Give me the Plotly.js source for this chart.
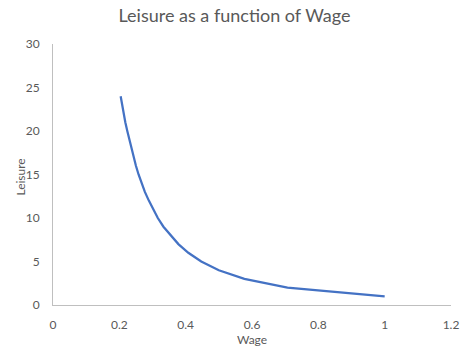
<!DOCTYPE html>
<html>
<head>
<meta charset="utf-8">
<script src="https://cdn.plot.ly/plotly-3.0.1.min.js"></script>
<style>html,body{margin:0;padding:0;background:#fff;}#chart{width:469px;height:353px;}</style>
</head>
<body>
<div id="chart"></div>
<script>
const wage = [1, 0.707, 0.577, 0.5, 0.447, 0.408, 0.378, 0.354, 0.333, 0.316, 0.302, 0.289, 0.277, 0.267, 0.258, 0.25, 0.243, 0.236, 0.229, 0.224, 0.218, 0.213, 0.209, 0.204];
const leisure = [1, 2, 3, 4, 5, 6, 7, 8, 9, 10, 11, 12, 13, 14, 15, 16, 17, 18, 19, 20, 21, 22, 23, 24];
const xTicks = [0, 0.2, 0.4, 0.6, 0.8, 1, 1.2];
const yTicks = [0, 5, 10, 15, 20, 25, 30];

const font = "Lato, 'Open Sans', sans-serif";
Plotly.newPlot('chart', [{
  x: wage, y: leisure, type: 'scatter', mode: 'lines',
  line: {color: '#4472C4', width: 2.25}
}], {
  width: 469, height: 353,
  margin: {l: 52.5, r: 18.3, t: 44, b: 48},
  paper_bgcolor: '#fff', plot_bgcolor: '#fff',
  showlegend: false,
  title: {text: 'Leisure as a function of Wage', x: 0.5, xanchor: 'center', y: 0.955, yanchor: 'middle',
    font: {family: font, size: 18, color: '#595959'}},
  xaxis: {range: [0, 1.2], tickvals: xTicks, ticktext: xTicks.map(String), showgrid: false, zeroline: false,
    showline: true, linecolor: '#bfbfbf', linewidth: 1, ticks: '', ticklen: 0, ticklabelstandoff: 9,
    tickfont: {family: font, size: 12, color: '#595959'},
    title: {text: 'Wage', standoff: 4, font: {family: font, size: 12, color: '#595959'}}},
  yaxis: {range: [0, 30], tickvals: yTicks, ticktext: yTicks.map(String), showgrid: false, zeroline: false,
    showline: true, linecolor: '#bfbfbf', linewidth: 1, ticks: '', ticklen: 0, ticklabelstandoff: 10,
    tickfont: {family: font, size: 12, color: '#595959'}},
  annotations: [{text: 'Leisure', xref: 'paper', yref: 'paper', x: -0.0817, y: 0.49, xanchor: 'center', yanchor: 'middle',
    textangle: -90, showarrow: false, font: {family: font, size: 12, color: '#595959'}}]
}, {displayModeBar: false, staticPlot: true});
</script>
</body>
</html>
